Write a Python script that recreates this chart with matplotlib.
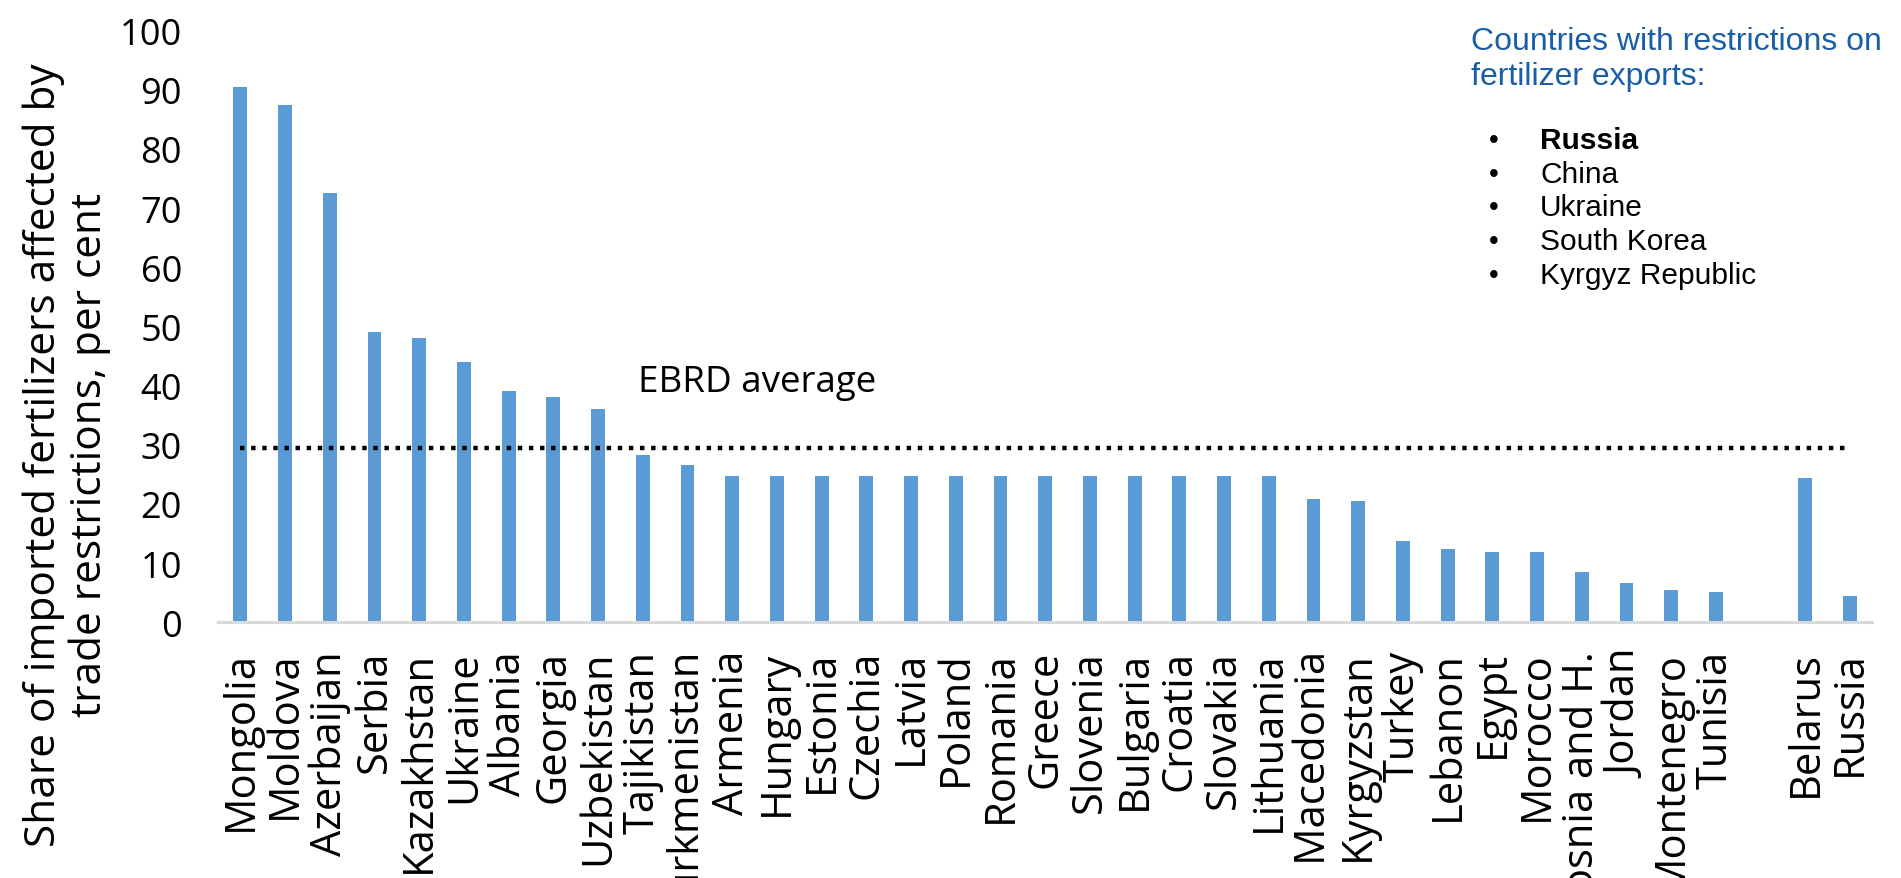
import matplotlib.pyplot as plt
import numpy as np

countries = [
    "Mongolia", "Moldova", "Azerbaijan", "Serbia", "Kazakhstan", "Ukraine",
    "Albania", "Georgia", "Uzbekistan", "Tajikistan", "Turkmenistan", "Armenia",
    "Hungary", "Estonia", "Czechia", "Latvia", "Poland", "Romania", "Greece",
    "Slovenia", "Bulgaria", "Croatia", "Slovakia", "Lithuania", "N. Macedonia",
    "Kyrgyzstan", "Turkey", "Lebanon", "Egypt", "Morocco", "Bosnia and H.",
    "Jordan", "Montenegro", "Tunisia", "", "Belarus", "Russia",
]
shares = [
    90.5, 87.5, 72.5, 49.0, 48.0, 44.0,
    39.0, 38.0, 36.0, 28.3, 26.6, 24.7,
    24.7, 24.7, 24.7, 24.7, 24.7, 24.7, 24.7,
    24.7, 24.7, 24.7, 24.7, 24.7, 20.9,
    20.5, 13.8, 12.4, 11.8, 11.8, 8.5,
    6.7, 5.4, 5.1, 0.0, 24.3, 4.5,
]
ebrd_average = 29.5
restricting = ["Russia", "China", "Ukraine", "South Korea", "Kyrgyz Republic"]

fig = plt.figure(figsize=(19.01, 8.79), dpi=100)
ax = fig.add_axes([0.1147, 0.291, 0.8703, 0.673])

x = np.arange(len(countries))
ax.bar(x, shares, width=0.31, color="#5b9bd5", zorder=2)
ax.hlines(ebrd_average, 0, len(countries) - 1, colors="black",
          linestyles=(0, (1, 1.5)), linewidth=3.2, zorder=3)
ax.text(8.9, 40.6, "EBRD average", fontsize=26.5, family="Open Sans",
        va="center", ha="left")

ax.set_xlim(-0.5, len(countries) - 0.5)
ax.set_ylim(0, 100)
ax.set_yticks(range(0, 101, 10))
ax.set_xticks(x)
ax.set_xticklabels(countries, rotation=90, fontsize=30, family="Open Sans",
                   va="top", ha="center")
ax.tick_params(axis="x", length=0, pad=20)
ax.tick_params(axis="y", length=0, pad=26, labelsize=26)
for lab in ax.get_yticklabels():
    lab.set_family("Open Sans")
for side in ["top", "right", "left"]:
    ax.spines[side].set_visible(False)
ax.spines["bottom"].set_color("#d9d9d9")
ax.spines["bottom"].set_linewidth(2.2)

fig.text(0.035, 0.482,
         "Share of imported fertilizers affected by\ntrade restrictions, per cent",
         rotation=90, fontsize=30.5, family="Open Sans", ha="center", va="center",
         linespacing=1.12)

blue = "#1a5ea8"
fig.text(0.774, 1 - 42 / 879, "Countries with restrictions on",
         fontsize=23, family="Liberation Sans", color=blue, va="center")
fig.text(0.774, 1 - 77 / 879, "fertilizer exports:",
         fontsize=23, family="Liberation Sans", color=blue, va="center")
for i, name in enumerate(restricting):
    yy = 1 - (141 + i * 33.7) / 879
    fig.text(1489 / 1901, yy, "\u2022", fontsize=20, family="Liberation Sans",
             va="center")
    fig.text(1540 / 1901, yy, name, fontsize=21.5, family="Liberation Sans",
             va="center", weight="bold" if i == 0 else "normal")

fig.savefig("out.png", dpi=100)
